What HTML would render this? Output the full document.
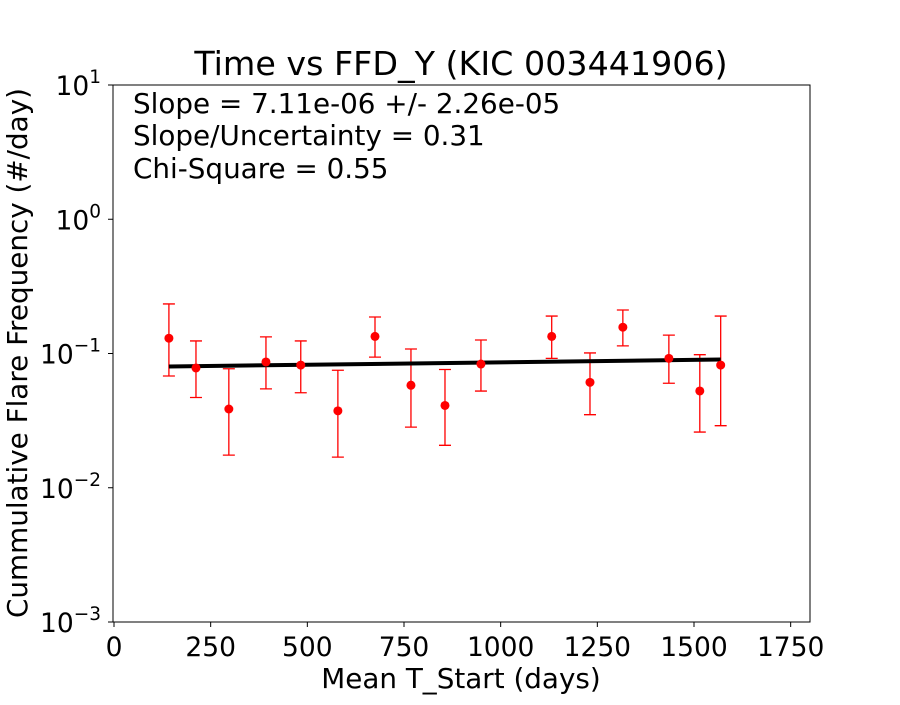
<!DOCTYPE html>
<html><head><meta charset="utf-8"><style>
body{margin:0;background:#fff}
svg text{font-family:"DejaVu Sans","Liberation Sans",sans-serif;fill:#000}
</style></head><body>
<svg id="chart" width="900" height="700" xmlns="http://www.w3.org/2000/svg">
<rect width="900" height="700" fill="#fff"/>
<text x="461" y="75" font-size="33.3" text-anchor="middle">Time vs FFD_Y (KIC 003441906)</text>
<g id="plot"></g>
<rect x="113" y="85" width="697" height="537" fill="none" stroke="#000" stroke-width="1"/>
<text x="133" y="113" font-size="27.8">Slope = 7.11e-06 +/- 2.26e-05</text>
<text x="133" y="145" font-size="27.8">Slope/Uncertainty = 0.31</text>
<text x="133" y="178" font-size="27.8">Chi-Square = 0.55</text>
<text x="461" y="688" font-size="27.8" text-anchor="middle">Mean T_Start (days)</text>
<text transform="translate(27,353) rotate(-90)" font-size="27.8" text-anchor="middle">Cummulative Flare Frequency (#/day)</text>
</svg>
<script>
const xs=[142,212,297,393,483,579,675,768,856,949,1132,1231,1316,1435,1515,1569];
const ys=[0.130,0.078,0.0386,0.0865,0.082,0.0374,0.134,0.058,0.041,0.0835,0.134,0.061,0.157,0.092,0.0526,0.082];
const yUp=[0.234,0.124,0.077,0.133,0.124,0.075,0.187,0.108,0.076,0.126,0.19,0.101,0.211,0.137,0.098,0.19];
const yLo=[0.068,0.047,0.0175,0.0545,0.051,0.0169,0.094,0.0283,0.0207,0.0525,0.092,0.035,0.114,0.060,0.026,0.029];
const xTicks=[0,250,500,750,1000,1250,1500,1750];
const yTicks=[-3,-2,-1,0,1];
const fitIntercept=0.079, fitSlope=7.11e-6;
const X0=114,X1=810,XMAX=1800,Y0=622,Y1=85;
const sx=v=>X0+(X1-X0)*v/XMAX;
const sy=v=>Y0-(Math.log10(v)+3)/4*(Y0-Y1);
const NS="http://www.w3.org/2000/svg";
const g=document.getElementById('plot');
function mk(t,a){const e=document.createElementNS(NS,t);for(const k in a)e.setAttribute(k,a[k]);g.appendChild(e);return e;}
xTicks.forEach(v=>{
 const l=mk('line',{x1:sx(v),x2:sx(v),y1:622,y2:627,stroke:'#000'});
 
 
 const t=mk('text',{x:sx(v),y:656,'font-size':26.5,'text-anchor':'middle'});t.textContent=v;
 
 
});
yTicks.forEach(p=>{
 const y=sy(Math.pow(10,p));
 const l=mk('line',{x1:108,x2:113,y1:y,y2:y,stroke:'#000'});
 
 
 const t=mk('text',{x:101,y:y+10,'font-size':26.5,'text-anchor':'end'});
 t.innerHTML='10<tspan dy="-12" font-size="18.5">'+(p<0?'\u2212'+(-p):p)+'</tspan>';
 
 
});
xs.forEach((x,i)=>{
 const px=sx(x);
 const e=mk('path',{d:`M${px},${sy(yUp[i])}V${sy(yLo[i])}M${px-6},${sy(yUp[i])}h12M${px-6},${sy(yLo[i])}h12`,stroke:'#f00','stroke-width':1.3,fill:'none'});
 
 
});
const fx0=xs[0],fx1=xs[xs.length-1];
const fl=mk('line',{x1:sx(fx0),y1:sy(fitIntercept+fitSlope*fx0),x2:sx(fx1),y2:sy(fitIntercept+fitSlope*fx1),stroke:'#000','stroke-width':4});


xs.forEach((x,i)=>{
 const c=mk('circle',{cx:sx(x),cy:sy(ys[i]),r:4.5,fill:'#f00'});
 
 
});
</script>
</body></html>
